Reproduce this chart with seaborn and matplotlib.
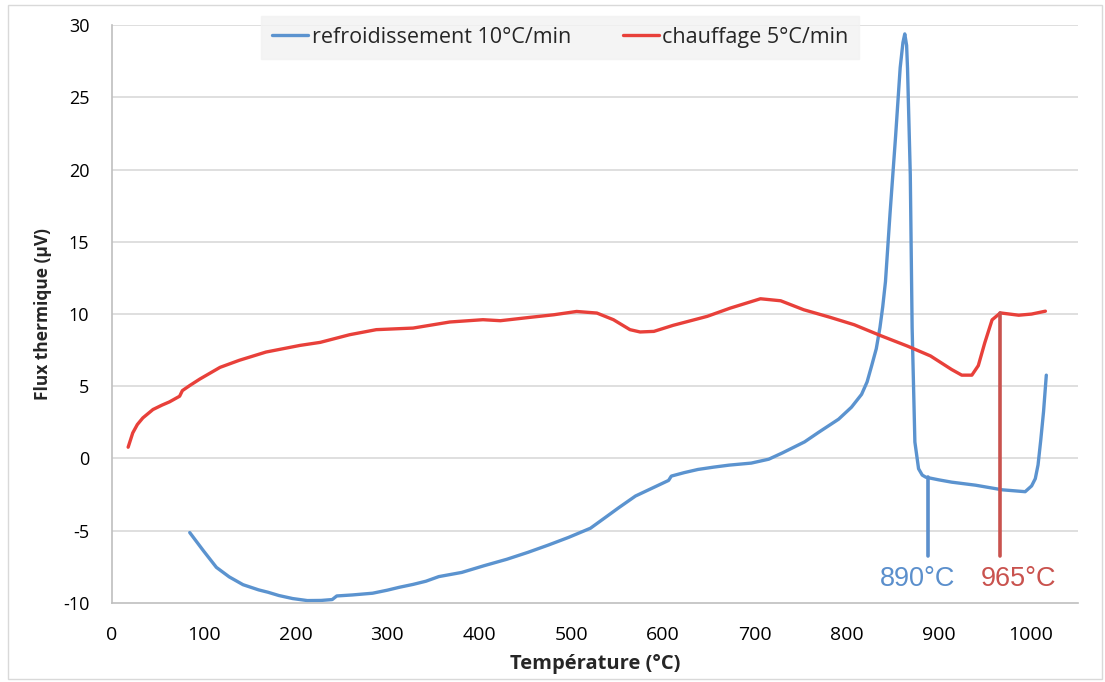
import numpy as np
import pandas as pd
import seaborn as sns
import matplotlib.pyplot as plt
from matplotlib.patches import Rectangle

# cooling curve (10 °C/min)
cool_T = [85, 100, 114, 128, 143, 160, 170, 182, 197, 213, 228, 240, 245, 262, 284, 300, 313, 328,
          342, 356, 381, 405, 430, 453, 475, 497, 521, 536, 552, 570, 590, 606, 609, 623, 638, 655,
          672, 696, 715, 730, 754, 769, 791, 805, 816, 822, 827, 832, 836, 839, 842, 847, 853, 858,
          861, 863, 865, 866, 869, 871, 874, 878, 882, 886, 900, 914, 940, 969, 994, 1001, 1005,
          1008, 1011, 1014, 1017]
cool_V = [-5.13, -6.4, -7.54, -8.2, -8.74, -9.1, -9.26, -9.49, -9.7, -9.84, -9.83, -9.77, -9.52,
          -9.45, -9.33, -9.12, -8.92, -8.72, -8.5, -8.18, -7.89, -7.43, -6.98, -6.5, -6.0, -5.47,
          -4.83, -4.14, -3.4, -2.6, -2.0, -1.52, -1.22, -0.98, -0.76, -0.6, -0.46, -0.32, -0.05,
          0.39, 1.15, 1.8, 2.72, 3.55, 4.44, 5.3, 6.43, 7.6, 9.07, 10.5, 12.25, 17.0, 22.3, 27.06,
          28.8, 29.4, 28.6, 27.0, 19.66, 9.07, 1.14, -0.71, -1.15, -1.3, -1.48, -1.64, -1.85,
          -2.17, -2.3, -1.9, -1.4, -0.45, 1.3, 3.25, 5.77]

# heating curve (5 °C/min)
heat_T = [18, 23, 28, 34, 45, 55, 63, 74, 77, 85, 96, 118, 139, 168, 205, 227, 259, 288, 328, 368,
          404, 423, 455, 481, 506, 528, 546, 564, 575, 590, 611, 648, 673, 706, 728, 753, 782, 808,
          837, 866, 891, 914, 925, 936, 943, 950, 958, 967, 987, 1001, 1016]
heat_V = [0.78, 1.77, 2.35, 2.81, 3.39, 3.7, 3.92, 4.31, 4.7, 5.05, 5.5, 6.31, 6.8, 7.37, 7.83,
          8.04, 8.57, 8.92, 9.03, 9.45, 9.61, 9.54, 9.77, 9.95, 10.18, 10.07, 9.61, 8.92, 8.76, 8.8,
          9.22, 9.84, 10.41, 11.06, 10.92, 10.3, 9.77, 9.26, 8.5, 7.78, 7.1, 6.16, 5.77, 5.77, 6.43,
          8.0, 9.6, 10.08, 9.92, 10.0, 10.2]

labels = ['refroidissement 10°C/min', 'chauffage 5°C/min']
mark_T = [888, 967]
mark_top = [-1.3, 10.08]
mark_bottom = -6.75
mark_text = ['890°C', '965°C']

blue, red = '#5b93cf', '#e8403a'
mark_cols = ['#5b8fcc', '#c9524e']

df = pd.concat([pd.DataFrame({'T': cool_T, 'V': cool_V, 'serie': labels[0]}),
                pd.DataFrame({'T': heat_T, 'V': heat_V, 'serie': labels[1]})])

sns.set_style('white')
plt.rcParams['font.family'] = ['Open Sans', 'DejaVu Sans']
plt.rcParams['axes.unicode_minus'] = False

fig = plt.figure(figsize=(11.05, 6.82), dpi=100)
ax = fig.add_axes([0.101, 0.116, 0.875, 0.847])

for y in range(-5, 31, 5):
    ax.axhline(y, color='#d9d9d9', lw=1.2, zorder=0)

sns.lineplot(data=df, x='T', y='V', hue='serie', palette=[blue, red], sort=False,
             estimator=None, lw=2.4, ax=ax)

for t, top, txt, c, dx in zip(mark_T, mark_top, mark_text, mark_cols, [-11, 20]):
    ax.plot([t, t], [mark_bottom, top], color=c, lw=2.6, zorder=3)
    ax.text(t + dx, -8.35, txt, color=c, ha='center', va='center', fontsize=19.5,
            family=['Liberation Sans', 'DejaVu Sans'])

ax.set_xlim(0, 1052)
ax.set_ylim(-10, 30)
ax.set_xticks(range(0, 1001, 100))
ax.set_yticks(range(-10, 31, 5))
for s in ['top', 'right']:
    ax.spines[s].set_visible(False)
for s in ['left', 'bottom']:
    ax.spines[s].set_color('#bfbfbf')
    ax.spines[s].set_linewidth(1.2)
ax.tick_params(axis='both', colors='#bfbfbf', labelcolor='black', labelsize=13,
               length=6, width=1.2, direction='out')
ax.tick_params(axis='x', pad=11, labelsize=14)
ax.tick_params(axis='y', pad=10)
ax.set_xlabel('Température (°C)', fontsize=14.5, fontweight='bold', labelpad=7)
ax.set_ylabel('Flux thermique (µV)', fontsize=12.5, fontweight='bold', labelpad=8)

leg = ax.legend(loc='center', bbox_to_anchor=(0.507, 0.945), bbox_transform=fig.transFigure,
                ncol=2, frameon=True, fontsize=15.5, handlelength=1.7, handletextpad=0.15,
                columnspacing=2.4, borderpad=0.5, borderaxespad=0, fancybox=False, title=None)
leg.get_frame().set_facecolor('#f2f2f2')
leg.get_frame().set_edgecolor('#f2f2f2')
for h in leg.get_lines():
    h.set_linewidth(2.4)

fig.patches.append(Rectangle((0.007, 0.004), 0.99, 0.988, transform=fig.transFigure,
                             fill=False, edgecolor='#d9d9d9', lw=1))

fig.savefig('out.png', dpi=100)
